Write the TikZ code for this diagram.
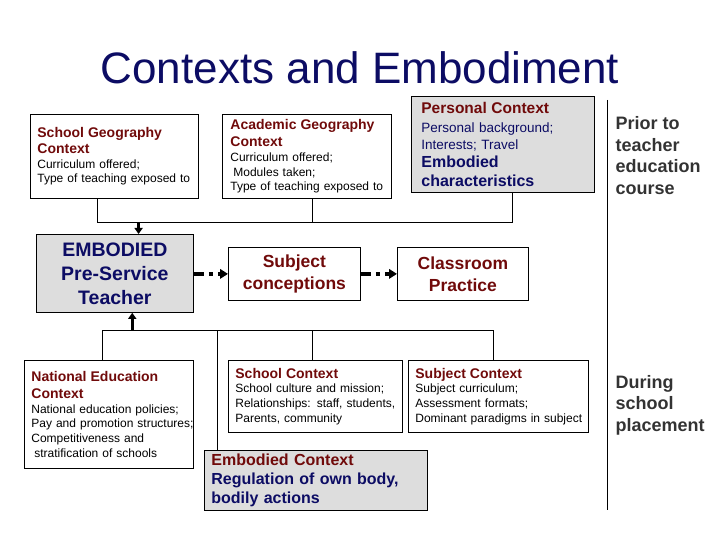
\documentclass[tikz,border=0pt]{standalone}
\usepackage{fontspec}
\setmainfont{Liberation Sans}
\usepackage{xcolor}
\usepackage{tikz}
\usetikzlibrary{arrows.meta, calc}
\definecolor{ctxNavy}{RGB}{12,12,100}
\definecolor{ctxRed}{RGB}{112,10,10}
\definecolor{ctxGrey}{RGB}{221,221,221}
\definecolor{ctxDark}{RGB}{51,51,51}
\newcommand{\ctxhead}[1]{{\fontsize{14}{16}\selectfont\bfseries\color{ctxRed}#1}}
\newcommand{\ctxsmall}{\fontsize{12}{14.8}\selectfont}

\begin{document}
\begin{tikzpicture}[x=1pt, y=-1pt,
  box/.style={draw, line width=0.8pt, anchor=north west, align=left,
    inner xsep=7pt, inner ysep=0pt, font=\ctxsmall},
  bigbox/.style={draw, line width=0.8pt, anchor=north west, align=center,
    inner sep=0pt, text=ctxRed, font=\fontsize{17.5}{22}\selectfont\bfseries},
  link/.style={line width=0.8pt},
  feed/.style={line width=2.6pt, -{Triangle[length=6pt, width=8pt]}},
  leads/.style={line width=3.4pt, dash pattern=on 10pt off 5pt on 4pt off 5pt,
    -{Triangle[length=8pt, width=9.5pt]}},
  phase/.style={anchor=west, align=left, text=ctxDark,
    font=\fontsize{18}{21.5}\selectfont\bfseries}]
  \useasboundingbox (0,0) rectangle (720,540);

  % title
  \node[anchor=base, text=ctxNavy, font=\fontsize{44}{50}\selectfont] (title) at (360,84) {Contexts and Embodiment};

  % contexts before the course
  \node[box, text width=154pt, minimum height=84pt] (sgeo) at (30,114)
    {\ctxhead{School Geography}\\[1pt] \ctxhead{Context}\\ Curriculum offered;\\ \mbox{Type of teaching exposed to}};
  \node[box, inner xsep=8pt, text width=153pt, minimum height=84pt] (acad) at (222,114)
    {\ctxhead{Academic Geography}\\[2pt] \ctxhead{Context}\\ Curriculum offered;\\ \hspace*{3pt}Modules taken;\\ \mbox{Type of teaching exposed to}};
  \node[box, fill=ctxGrey, inner xsep=10pt, text width=163pt, minimum height=96pt, text=ctxNavy,
    font=\fontsize{13.5}{17.5}\selectfont] (pers) at (411,96)
    {{\fontsize{15.5}{18}\selectfont\bfseries\color{ctxRed}Personal Context}\\[1.5pt] Personal background;\\ Interests; Travel\\[0.5pt]
     {\fontsize{16}{19}\selectfont\bfseries Embodied}\\[1.5pt] {\fontsize{16}{19}\selectfont\bfseries characteristics}};

  % middle row
  \node[bigbox, fill=ctxGrey, text=ctxNavy, minimum width=157pt, minimum height=78pt,
    font=\fontsize{19.5}{24}\selectfont\bfseries] (teacher) at (36,234) {EMBODIED\\ Pre-Service\\ Teacher};
  \node[bigbox, minimum width=132pt, minimum height=53pt] (subj) at (228,247) {Subject\\ conceptions};
  \node[bigbox, minimum width=131pt, minimum height=53pt] (class) at (397,247) {Classroom\\ Practice};

  % contexts during placement
  \node[box, text width=155pt, minimum height=108pt] (natl) at (24,360)
    {\ctxhead{National Education}\\[2pt] \ctxhead{Context}\\ National education policies;\\ \mbox{Pay and promotion structures;}\\ Competitiveness and\\ \hspace*{3pt}stratification of schools};
  \node[box, text width=160pt, minimum height=72pt] (sch) at (228,360)
    {\ctxhead{School Context}\\ School culture and mission;\\ \mbox{Relationships: staff, students,}\\ Parents, community};
  \node[box, text width=166pt, minimum height=72pt] (subc) at (408,360)
    {\ctxhead{Subject Context}\\ Subject curriculum;\\ Assessment formats;\\ \mbox{Dominant paradigms in subject}};
  \node[box, fill=ctxGrey, text width=209pt, minimum height=60pt, text=ctxNavy,
    font=\fontsize{16}{19}\selectfont\bfseries] (embc) at (204,450)
    {{\color{ctxRed}Embodied Context}\\ Regulation of own body,\\ bodily actions};

  % phase labels
  \node[phase] (prior) at (612,155.5) {Prior to\\ teacher\\ education\\ course};
  \node[phase] (during) at (612,405) {During\\ school\\ placement};
  \draw[link] (607,100) -- (607,510);

  % top bracket
  \coordinate (topbar) at (0,222);
  \coordinate (sgeoOut) at ($(sgeo.south west)!0.4!(sgeo.south east)$);
  \coordinate (acadOut) at ($(acad.south west)!0.53!(acad.south east)$);
  \coordinate (persOut) at ($(pers.south west)!0.55!(pers.south east)$);
  \coordinate (tIn) at ($(teacher.north west)!0.65!(teacher.north east)$);
  \draw[link] (sgeoOut) -- (sgeoOut |- topbar) -- (persOut |- topbar) -- (persOut);
  \draw[link] (acadOut) -- (acadOut |- topbar);
  \draw[feed] (tIn |- topbar) -- (tIn);

  % bottom bracket
  \coordinate (botbar) at (0,330);
  \coordinate (natlIn) at ($(natl.north west)!0.46!(natl.north east)$);
  \coordinate (schIn) at ($(sch.north west)!0.48!(sch.north east)$);
  \coordinate (subcIn) at ($(subc.north west)!0.47!(subc.north east)$);
  \coordinate (embcIn) at ($(embc.north west)!0.06!(embc.north east)$);
  \coordinate (tOut) at ($(teacher.south west)!0.61!(teacher.south east)$);
  \draw[link] (natlIn) -- (natlIn |- botbar) -- (subcIn |- botbar) -- (subcIn);
  \draw[link] (schIn |- botbar) -- (schIn);
  \draw[link] (embcIn |- botbar) -- (embcIn);
  \draw[feed] (tOut |- botbar) -- (tOut);

  % dash-dot arrows
  \draw[leads] (teacher.east |- subj.west) -- (subj.west);
  \draw[leads] (subj.east) -- (class.west);
\end{tikzpicture}
\end{document}
